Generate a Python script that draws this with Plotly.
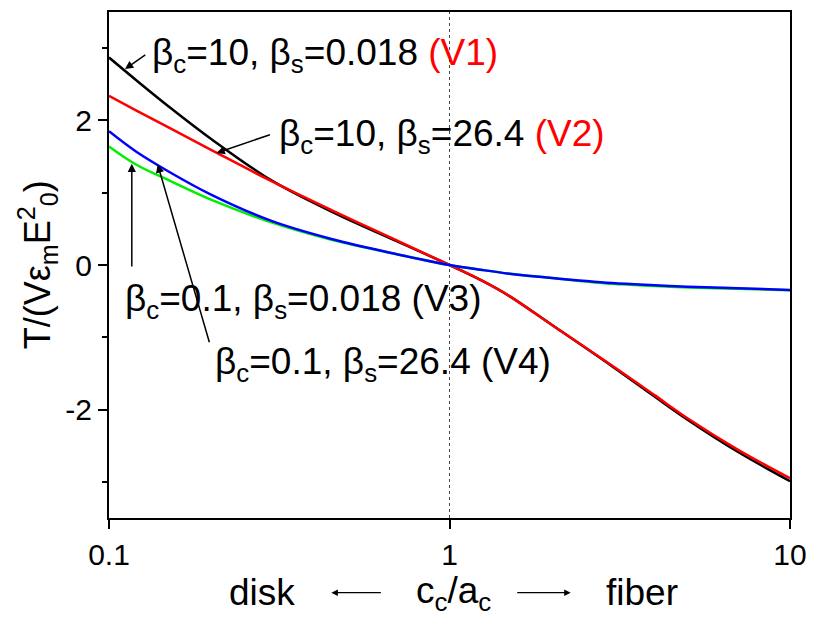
import plotly.graph_objects as go

# Shape ratio c_c/a_c (log axis) and normalized torque for the four cases
ratio = [0.1, 0.12, 0.15, 0.2, 0.3, 0.45, 0.7, 1, 1.25, 1.5, 2, 3, 4, 5, 7, 10]
torque_v1 = [2.87, 2.56, 2.19, 1.74, 1.17, 0.74, 0.33, 0.0, -0.22, -0.43, -0.83, -1.40, -1.82, -2.14, -2.58, -2.99]
torque_v2 = [2.34, 2.14, 1.90, 1.59, 1.16, 0.76, 0.34, 0.0, -0.22, -0.43, -0.83, -1.39, -1.80, -2.12, -2.55, -2.95]
torque_v3 = [1.64, 1.39, 1.17, 0.90, 0.59, 0.35, 0.15, 0.0, -0.07, -0.12, -0.18, -0.26, -0.29, -0.31, -0.33, -0.35]
torque_v4 = [1.85, 1.57, 1.29, 0.97, 0.61, 0.36, 0.15, 0.0, -0.07, -0.12, -0.18, -0.25, -0.28, -0.30, -0.32, -0.345]

x_ticks = [0.1, 1, 10]
x_ticktext = ["0.1", "1", "10"]
y_ticks = [-2, 0, 2]
y_ticktext = ["-2", "0", "2"]
y_minor = [-3, -1, 1, 3]

FONT = "Arial, Liberation Sans, sans-serif"

fig = go.Figure()

# reference line at c_c/a_c = 1
fig.add_trace(go.Scatter(x=[1, 1], y=[-3.5, 3.5], mode="lines",
                         line=dict(color="#444444", width=1, dash="3px,3px"),
                         hoverinfo="skip", showlegend=False))

series = [
    (torque_v1, "black"),
    (torque_v2, "#ff0000"),
    (torque_v3, "#00ee00"),
    (torque_v4, "#0000ff"),
]
for ys, col in series:
    fig.add_trace(go.Scatter(x=ratio, y=ys, mode="lines",
                             line=dict(color=col, width=2.5, shape="spline", smoothing=1.0),
                             showlegend=False))

annotations = []

# case labels (x in log10 units on the log axis)
labels = [
    ("β<sub>c</sub>=10, β<sub>s</sub>=0.018 <span style='color:#ff0000'>(V1)</span>", -0.880, 2.90),
    ("β<sub>c</sub>=10, β<sub>s</sub>=26.4 <span style='color:#ff0000'>(V2)</span>", -0.508, 1.78),
    ("β<sub>c</sub>=0.1, β<sub>s</sub>=0.018 (V3)", -0.959, -0.50),
    ("β<sub>c</sub>=0.1, β<sub>s</sub>=26.4 (V4)", -0.695, -1.37),
]
for txt, lx, ly in labels:
    annotations.append(dict(text=txt, x=lx, y=ly, xref="x", yref="y",
                            xanchor="left", yanchor="middle", showarrow=False,
                            font=dict(family=FONT, size=37, color="black")))

# pointer arrows: (head x, head y, tail x, tail y)
pointers = [
    (-0.953, 2.71, -0.889, 2.92),
    (-0.684, 1.55, -0.523, 1.81),
    (-0.933, 1.40, -0.933, -0.04),
    (-0.857, 1.39, -0.704, -1.09),
]
for hx, hy, tx, ty in pointers:
    annotations.append(dict(text="", x=hx, y=hy, ax=tx, ay=ty,
                            xref="x", yref="y", axref="x", ayref="y",
                            showarrow=True, arrowhead=2, arrowsize=1.1,
                            arrowwidth=1.5, arrowcolor="black"))

# y-axis title
annotations.append(dict(text="T/(Vε<sub>m</sub>E<sup>2</sup><sub>0</sub>)",
                        x=-0.1054, y=0.5, xref="paper", yref="paper",
                        xanchor="center", yanchor="middle", textangle=-90,
                        showarrow=False, font=dict(family=FONT, size=36, color="black")))

# x-axis title line: disk <- c_c/a_c -> fiber
title_y = -0.1476
for txt, px in [("disk", 0.225), ("c<sub>c</sub>/a<sub>c</sub>", 0.5066), ("fiber", 0.782)]:
    annotations.append(dict(text=txt, x=px, y=title_y, xref="paper", yref="paper",
                            xanchor="center", yanchor="middle", showarrow=False,
                            font=dict(family=FONT, size=37, color="black")))
for hx, off in [(0.3265, 51), (0.678, -55)]:
    annotations.append(dict(text="", x=hx, y=title_y, xref="paper", yref="paper",
                            ax=off, ay=0, showarrow=True, arrowhead=2,
                            arrowsize=1.0, arrowwidth=1.3, arrowcolor="black"))

fig.update_layout(
    width=817, height=622,
    margin=dict(l=109, r=25, t=10, b=104),
    paper_bgcolor="white", plot_bgcolor="white",
    font=dict(family=FONT, color="black"),
    annotations=annotations,
    xaxis=dict(type="log", range=[-1, 1], showgrid=False, zeroline=False,
               showline=True, linecolor="black", linewidth=2, mirror=True,
               ticks="outside", ticklen=9, tickwidth=2, tickcolor="black",
               tickvals=x_ticks, ticktext=x_ticktext,
               tickfont=dict(family=FONT, size=30, color="black")),
    yaxis=dict(range=[-3.5, 3.5], showgrid=False, zeroline=False,
               showline=True, linecolor="black", linewidth=2, mirror=True,
               ticks="outside", ticklen=9, tickwidth=2, tickcolor="black",
               tickvals=y_ticks, ticktext=y_ticktext,
               minor=dict(tickmode="array", tickvals=y_minor, ticks="outside",
                          ticklen=5, tickwidth=2, tickcolor="black"),
               tickfont=dict(family=FONT, size=30, color="black")),
)

fig.write_html("out.html")
